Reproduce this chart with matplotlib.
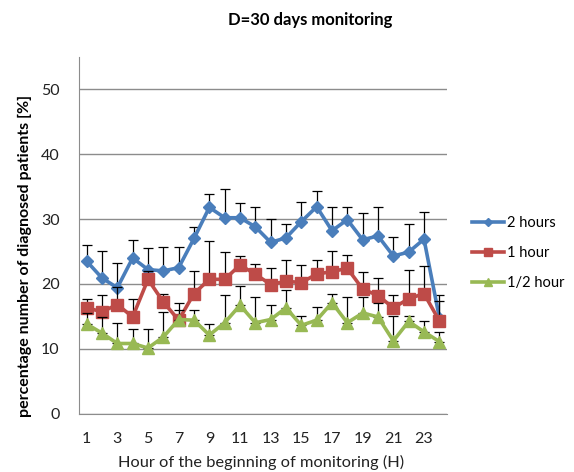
import numpy as np
import matplotlib
matplotlib.use('Agg')
import matplotlib.pyplot as plt

plt.rcParams['font.family'] = ['Lato', 'DejaVu Sans']

hours = list(range(1, 25))
tick_hours = [1, 3, 5, 7, 9, 11, 13, 15, 17, 19, 21, 23]

# 2 hours
blue = [23.5, 20.9, 19.4, 24.0, 22.2, 22.0, 22.5, 27.0, 31.8, 30.2, 30.2, 28.8,
        26.4, 27.1, 29.6, 31.9, 28.2, 29.9, 26.8, 27.4, 24.3, 24.9, 26.9, 14.8]
blue_top = [26.0, 25.0, 23.2, 26.7, 25.5, 25.7, 25.7, 28.7, 33.9, 34.6, 32.5, 31.8,
            30.0, 29.3, 32.6, 34.3, 31.9, 31.8, 31.0, 31.9, 27.3, 29.2, 31.1, 18.3]
# 1 hour
red = [16.3, 15.7, 16.8, 14.9, 20.7, 17.2, 14.4, 18.5, 20.7, 20.7, 22.9, 21.5,
       19.9, 20.4, 20.2, 21.5, 21.9, 22.4, 19.2, 18.2, 16.3, 17.7, 18.5, 14.3]
red_top = [17.6, 18.3, 19.5, 17.6, 22.0, 18.4, 17.0, 22.0, 26.6, 24.9, 24.3, 23.1,
           22.4, 23.7, 22.9, 23.7, 25.1, 24.5, 21.9, 20.9, 18.3, 22.1, 22.8, 17.4]
# 1/2 hour
green = [13.8, 12.4, 10.8, 10.8, 10.1, 11.8, 14.5, 14.4, 12.1, 14.0, 16.7, 14.0,
         14.5, 16.3, 13.6, 14.4, 17.1, 14.0, 15.5, 14.9, 11.2, 14.2, 12.6, 11.1]
green_top = [15.5, 14.9, 13.9, 13.0, 13.0, 15.6, 16.0, 16.0, 13.8, 18.3, 19.6, 18.0,
             16.7, 19.0, 15.1, 16.4, 18.4, 17.9, 17.9, 17.0, 15.0, 15.1, 14.3, 12.5]

series = [
    ('2 hours', blue, blue_top, '#4A7EBB', 'D', 6.5),
    ('1 hour', red, red_top, '#BE4B48', 's', 8.5),
    ('1/2 hour', green, green_top, '#98B954', '^', 9),
]

fig = plt.figure(figsize=(5.74, 4.72), dpi=100)
ax = fig.add_axes([79 / 574, 1 - 413.5 / 472, (447 - 79) / 574, (413.5 - 57) / 472])

for i, (name, vals, tops, col, mk, ms) in enumerate(series):
    vals = np.array(vals)
    err = np.array(tops) - vals
    ax.errorbar(hours, vals, yerr=[np.zeros_like(err), err], fmt='none',
                ecolor='black', elinewidth=0.9, capsize=3.5, capthick=0.9,
                zorder=2 + 2 * i)
    ax.plot(hours, vals, color=col, lw=2.6, marker=mk, markersize=ms,
            label=name, zorder=3 + 2 * i)

ax.set_xlim(0.5, 24.5)
ax.set_ylim(0, 55)
ax.set_yticks(range(0, 51, 10))
ax.set_xticks(tick_hours)
ax.tick_params(length=0, labelsize=11.5, colors='#222222')
ax.tick_params(axis='x', pad=13)
ax.tick_params(axis='y', pad=14)
ax.yaxis.grid(True, color='#8c8c8c', lw=1)
ax.set_axisbelow(True)
for s in ['top', 'right']:
    ax.spines[s].set_visible(False)
for s in ['left', 'bottom']:
    ax.spines[s].set_color('#8c8c8c')

fig.text(310 / 574, 1 - 20 / 472, 'D=30 days monitoring', ha='center', va='center',
         fontsize=12, fontweight='bold')
fig.text(261 / 574, 1 - 462 / 472, 'Hour of the beginning of monitoring (H)',
         ha='center', va='center', fontsize=11.8, color='#222222')
fig.text(25 / 574, 1 - 256 / 472, 'percentage number of diagnosed patients [%]',
         ha='center', va='center', rotation=90, fontsize=11.5, fontweight='bold')

ax.legend(loc='center left', bbox_to_anchor=(472 / 574, 1 - 253 / 472),
          bbox_transform=fig.transFigure, frameon=False, fontsize=10.5,
          handlelength=2.2, labelspacing=1.1, handletextpad=0.2, borderpad=0,
          borderaxespad=0, markerscale=0.7)

fig.savefig('out.png', dpi=100)
